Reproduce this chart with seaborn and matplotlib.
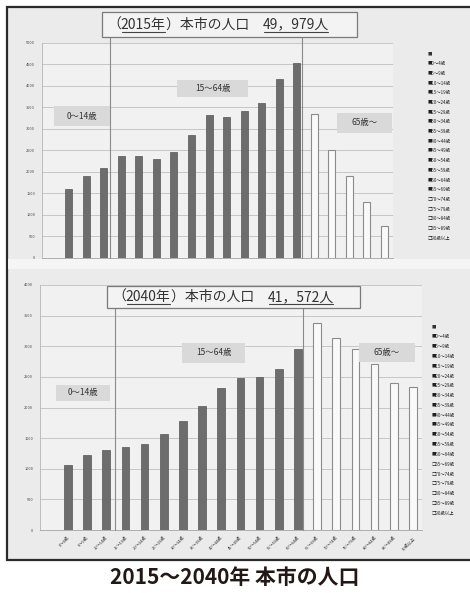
import numpy as np
import pandas as pd
import seaborn as sns
import matplotlib.pyplot as plt
from matplotlib.patches import Rectangle
from matplotlib.lines import Line2D

sns.set_theme(style="white")
plt.rcParams['font.family'] = ['Noto Sans CJK JP', 'DejaVu Sans']

# age groups (x axis) and population per group
ages = ['0～4歳', '5～9歳', '10～14歳', '15～19歳', '20～24歳', '25～29歳',
        '30～34歳', '35～39歳', '40～44歳', '45～49歳', '50～54歳', '55～59歳',
        '60～64歳', '65～69歳', '70～74歳', '75～79歳', '80～84歳', '85～89歳',
        '90歳以上']
pop_2015 = [1605, 1907, 2093, 2372, 2372, 2302, 2465, 2860, 3325, 3279,
            3407, 3605, 4163, 4535, 3349, 2512, 1907, 1302, 744]
pop_2040 = [1061, 1224, 1306, 1355, 1404, 1567, 1780, 2024, 2318, 2481,
            2500, 2628, 2955, 3380, 3135, 2955, 2710, 2400, 2335]
n_dark_2015 = 14   # filled bars in the 2015 chart, the rest are hollow
n_dark_2040 = 13
group_labels = ['0～14歳', '15～64歳', '65歳～']
# title pieces: (text, underlined)
titles = [
    [('（', False), ('2015年', True), ('）本市の人口　', False), ('49，979人', True)],
    [('（', False), ('2040年', True), ('）本市の人口　', False), ('41，572人', True)],
]
caption = '2015～2040年 本市の人口'

W, H = 470, 593
DARK = '#6d6d6d'
fig = plt.figure(figsize=(W / 100, H / 100), dpi=100)
renderer = fig.canvas.get_renderer()


def fx(x):
    return x / W


def fy(y):
    return 1 - y / H


def px_rect(x0, y0, x1, y1, **kw):
    r = Rectangle((fx(x0), fy(y1)), (x1 - x0) / W, (y1 - y0) / H,
                  transform=fig.transFigure, **kw)
    fig.patches.append(r)
    return r


def px_line(x0, y0, x1, y1, **kw):
    fig.lines.append(Line2D([fx(x0), fx(x1)], [fy(y0), fy(y1)],
                            transform=fig.transFigure, **kw))


# scanned sheet with dark border (behind the axes)
px_rect(7, 7, 480, 560, facecolor='#ebebeb', edgecolor='#2b2b2b', lw=1.6, zorder=-2)
px_rect(8, 259, 480, 269, facecolor='#f5f5f5', edgecolor='none', zorder=-1)


def draw_panel(rect, values, n_dark, ymax, xlim, show_xlabels):
    ax = fig.add_axes([fx(rect[0]), fy(rect[3]), (rect[2] - rect[0]) / W,
                       (rect[3] - rect[1]) / H])
    ax.set_facecolor('#f1f1f1')
    sns.barplot(x=ages[:n_dark], y=values[:n_dark], order=ages, color=DARK,
                saturation=1, width=0.4, edgecolor='#555555', linewidth=0.5, ax=ax)
    sns.barplot(x=ages[n_dark:], y=values[n_dark:], order=ages, color='#f9f9f9',
                saturation=1, width=0.4, edgecolor='#8c8c8c', linewidth=0.8, ax=ax)
    ax.set_xlim(*xlim)
    ax.set_ylim(0, ymax)
    ax.set_yticks(np.arange(0, ymax + 1, 500))
    ax.set_yticklabels([str(v) for v in range(0, ymax + 1, 500)])
    ax.yaxis.grid(True, color='#c6c6c6', lw=0.7)
    ax.set_axisbelow(True)
    for s in ['top', 'right']:
        ax.spines[s].set_visible(False)
    ax.spines['left'].set_color('#b5b5b5')
    ax.spines['bottom'].set_color('#a5a5a5')
    ax.spines['left'].set_linewidth(0.6)
    ax.spines['bottom'].set_linewidth(0.6)
    ax.set_xlabel('')
    ax.set_ylabel('')
    ax.tick_params(axis='y', labelsize=2.8, labelcolor='#444444', length=0, pad=5)
    if show_xlabels:
        ax.set_xticks(range(len(ages)))
        ax.set_xticklabels(ages, rotation=45, ha='right', rotation_mode='anchor',
                           fontsize=3, color='#333333')
        ax.tick_params(axis='x', length=2, width=0.5, color='#999999', pad=2)
    else:
        ax.tick_params(axis='x', labelbottom=False, length=0)
    return ax


ax1 = draw_panel((42, 43, 393, 258), pop_2015, n_dark_2015, 5000, (-1.54, 18.51), False)
ax2 = draw_panel((40, 285, 422, 530), pop_2040, n_dark_2040, 4000, (-1.46, 18.47), True)

# dividers between the age bands
for x0, y0, y1 in [(110, 30, 258), (302, 25, 258), (115, 292, 530), (303, 300, 530)]:
    px_line(x0, y0, x0, y1, color='#8a8a8a', lw=0.8, zorder=5)

# chart titles in boxes, pieces laid out left to right, some underlined
for (x0, y0, x1, y1), pieces in zip([(102, 12, 357, 37), (107, 286, 360, 308)], titles):
    px_rect(x0, y0, x1, y1, facecolor='#f3f3f3', edgecolor='#7a7a7a', lw=0.9, zorder=6)
    cx = x0 + 5
    cy = (y0 + y1) / 2
    for txt, under in pieces:
        t = fig.text(fx(cx), fy(cy), txt, ha='left', va='center', fontsize=10,
                     color='#333333', zorder=7)
        bb = t.get_window_extent(renderer)
        if under:
            px_line(cx + 1, cy + 7, cx + bb.width - 1, cy + 7, color='#444444',
                    lw=0.8, zorder=7)
        cx += bb.width

# grey age band labels
bands = [
    ((54, 106, 110, 126), (177, 80, 248, 97), (337, 113, 392, 133)),
    ((56, 385, 110, 401), (182, 343, 245, 363), (359, 343, 415, 362)),
]
for panel in bands:
    for (x0, y0, x1, y1), lab in zip(panel, group_labels):
        px_rect(x0, y0, x1, y1, facecolor='#d9d9d9', edgecolor='none', zorder=6)
        fig.text(fx((x0 + x1) / 2), fy((y0 + y1) / 2), lab, ha='center', va='center',
                 fontsize=6, color='#333333', zorder=7)

# legends on the right
for x0, y0, dy, n_dark in [(428, 54, 9.7, n_dark_2015), (432, 327, 9.8, n_dark_2040)]:
    fig.text(fx(x0), fy(y0), '■', fontsize=3.2, va='center', color='#333333')
    for i, lab in enumerate(ages):
        mark = '■' if i < n_dark else '□'
        fig.text(fx(x0), fy(y0 + dy * (i + 1)), mark + lab, fontsize=3.2,
                 va='center', color='#222222')

fig.text(0.5, fy(578), caption, ha='center', va='center', fontsize=15,
         fontweight='bold', color='#231815')

fig.savefig('out.png', dpi=100, facecolor='white')
